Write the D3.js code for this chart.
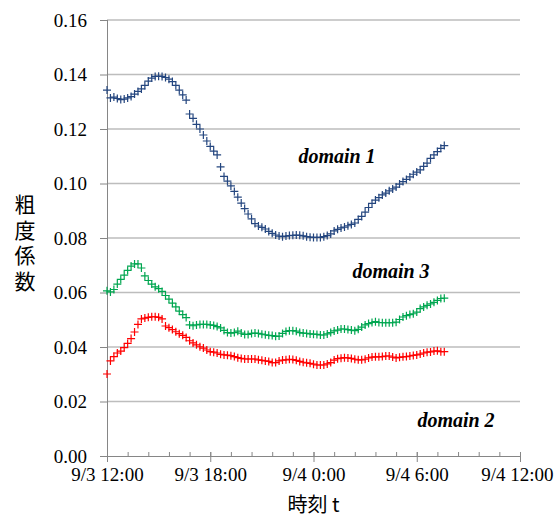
<!DOCTYPE html>
<html>
<head>
<meta charset="utf-8">
<script src="https://cdn.jsdelivr.net/npm/d3@7"></script>
<style>
  body { margin: 0; background: #fff; }
  svg { display: block; }
</style>
</head>
<body>
<div id="chart"></div>
<script>
// samples every 12 minutes from 9/3 12:00
const sampleStart = new Date(2014, 8, 3, 12, 0);
const sampleStepMinutes = 12;

const domain1 = [
  0.1343, 0.1314, 0.1317, 0.1312, 0.1308, 0.1310, 0.1314, 0.1319, 0.1328, 0.1338,
  0.1347, 0.1360, 0.1376, 0.1387, 0.1393, 0.1394, 0.1393, 0.1389, 0.1383, 0.1374,
  0.1360, 0.1343, 0.1325, 0.1306, 0.1255, 0.1239, 0.1217, 0.1200, 0.1178, 0.1156,
  0.1136, 0.1119, 0.1105, 0.1061, 0.1026, 0.1009, 0.0991, 0.0971, 0.0950, 0.0928,
  0.0908, 0.0888, 0.0870, 0.0853, 0.0844, 0.0839, 0.0833, 0.0824, 0.0817, 0.0811,
  0.0807, 0.0805, 0.0807, 0.0809, 0.0810, 0.0811, 0.0810, 0.0808, 0.0805, 0.0803,
  0.0802, 0.0802, 0.0802, 0.0805, 0.0809, 0.0815, 0.0826, 0.0832, 0.0837, 0.0840,
  0.0845, 0.0850, 0.0855, 0.0868, 0.0879, 0.0895, 0.0912, 0.0927, 0.0939, 0.0948,
  0.0958, 0.0965, 0.0973, 0.0980, 0.0987, 0.0998, 0.1007, 0.1015, 0.1024, 0.1034,
  0.1042, 0.1050, 0.1063, 0.1075, 0.1092, 0.1105, 0.1117, 0.1129, 0.1139,
];

const domain3 = [
  0.0606, 0.0602, 0.0611, 0.0631, 0.0648, 0.0664, 0.0681, 0.0697, 0.0705, 0.0705,
  0.0690, 0.0661, 0.0644, 0.0631, 0.0621, 0.0614, 0.0604, 0.0589, 0.0576, 0.0561,
  0.0547, 0.0532, 0.0519, 0.0508, 0.0481, 0.0478, 0.0481, 0.0483, 0.0483, 0.0483,
  0.0481, 0.0479, 0.0475, 0.0470, 0.0461, 0.0453, 0.0451, 0.0453, 0.0458, 0.0451,
  0.0446, 0.0446, 0.0450, 0.0451, 0.0450, 0.0447, 0.0445, 0.0443, 0.0442, 0.0439,
  0.0440, 0.0450, 0.0457, 0.0460, 0.0460, 0.0458, 0.0453, 0.0451, 0.0450, 0.0448,
  0.0447, 0.0446, 0.0444, 0.0444, 0.0448, 0.0453, 0.0459, 0.0462, 0.0466, 0.0466,
  0.0464, 0.0462, 0.0460, 0.0465, 0.0473, 0.0481, 0.0486, 0.0490, 0.0493, 0.0490,
  0.0489, 0.0489, 0.0489, 0.0489, 0.0491, 0.0501, 0.0510, 0.0515, 0.0519, 0.0522,
  0.0528, 0.0541, 0.0547, 0.0553, 0.0558, 0.0564, 0.0571, 0.0578, 0.0579,
];

const domain2 = [
  0.0301, 0.0349, 0.0365, 0.0378, 0.0385, 0.0398, 0.0413, 0.0431, 0.0455, 0.0483,
  0.0503, 0.0506, 0.0509, 0.0511, 0.0511, 0.0509, 0.0503, 0.0477, 0.0471, 0.0464,
  0.0456, 0.0449, 0.0443, 0.0435, 0.0423, 0.0415, 0.0408, 0.0401, 0.0396, 0.0389,
  0.0383, 0.0381, 0.0378, 0.0373, 0.0371, 0.0370, 0.0368, 0.0365, 0.0361, 0.0358,
  0.0356, 0.0356, 0.0356, 0.0356, 0.0353, 0.0351, 0.0349, 0.0347, 0.0343, 0.0343,
  0.0349, 0.0352, 0.0353, 0.0355, 0.0354, 0.0351, 0.0347, 0.0344, 0.0342, 0.0340,
  0.0337, 0.0334, 0.0334, 0.0334, 0.0338, 0.0343, 0.0352, 0.0357, 0.0359, 0.0361,
  0.0360, 0.0358, 0.0355, 0.0353, 0.0353, 0.0355, 0.0360, 0.0363, 0.0364, 0.0364,
  0.0365, 0.0367, 0.0367, 0.0363, 0.0360, 0.0362, 0.0364, 0.0365, 0.0367, 0.0369,
  0.0371, 0.0374, 0.0378, 0.0381, 0.0382, 0.0385, 0.0386, 0.0383, 0.0383,
];

const yTicks = [0, 0.02, 0.04, 0.06, 0.08, 0.10, 0.12, 0.14, 0.16];

const seriesList = [
  { name: "domain 1", values: domain1, color: "#24467f", label: [337, 163] },
  { name: "domain 3", values: domain3, color: "#00a650", label: [391, 278] },
  { name: "domain 2", values: domain2, color: "#ff0000", label: [456, 427] },
];

const width = 555;
const height = 517;
const margin = { top: 20, right: 35, bottom: 61, left: 107 };
const innerWidth = width - margin.left - margin.right;
const innerHeight = height - margin.top - margin.bottom;

const serif = "'Liberation Serif', 'Times New Roman', serif";
const cjk = "'Noto Sans CJK JP', 'Noto Sans', sans-serif";

const svg = d3
  .select("#chart")
  .append("svg")
  .attr("width", width)
  .attr("height", height);

const g = svg.append("g").attr("transform", `translate(${margin.left},${margin.top})`);

const xStart = new Date(2014, 8, 3, 12, 0);
const xEnd = new Date(2014, 8, 4, 12, 0);
const x = d3.scaleTime().domain([xStart, xEnd]).range([0, innerWidth]);
const y = d3.scaleLinear().domain([0, 0.16]).range([innerHeight, 0]);

// gridlines
g.append("g")
  .selectAll("line")
  .data(yTicks.filter((d) => d > 0))
  .join("line")
  .attr("x1", 0)
  .attr("x2", innerWidth)
  .attr("y1", (d) => y(d))
  .attr("y2", (d) => y(d))
  .attr("stroke", "#bdbdbd")
  .attr("stroke-width", 1.5);

// y axis
const yAxis = g
  .append("g")
  .call(d3.axisLeft(y).tickValues(yTicks).tickFormat(d3.format(".2f")).tickSize(7).tickPadding(13));
yAxis.select(".domain").attr("stroke", "#868686").attr("d", `M0.5,0V${innerHeight}`);
yAxis.selectAll(".tick line").attr("stroke", "#868686");
yAxis.selectAll(".tick text").attr("font-family", serif).attr("font-size", 19).attr("fill", "#000").attr("dy", "0.34em");

// x axis: major ticks cross the axis, minor ticks point inward
const fmtTime = (d) => `${d.getMonth() + 1}/${d.getDate()} ${d.getHours()}:${d3.format("02")(d.getMinutes())}`;
const xAxis = g
  .append("g")
  .attr("transform", `translate(0,${innerHeight})`)
  .call(d3.axisBottom(x).ticks(d3.timeHour.every(6)).tickFormat(fmtTime).tickSize(6).tickPadding(6));
xAxis.select(".domain").attr("stroke", "#868686").attr("d", `M-7,0.5H${innerWidth}`);
xAxis.selectAll(".tick line").attr("stroke", "#868686").attr("y1", -4);
xAxis.selectAll(".tick text").attr("font-family", serif).attr("font-size", 19).attr("fill", "#000");
// keep the last label inside the picture
xAxis
  .selectAll(".tick text")
  .filter((d) => +d === +xEnd)
  .attr("text-anchor", "end")
  .attr("x", 446 - innerWidth);

const minorTicks = d3.range(0, 21).map((k) => d3.timeMinute.offset(xStart, k * 72));
xAxis
  .append("g")
  .selectAll("line")
  .data(minorTicks)
  .join("line")
  .attr("x1", (d) => x(d) + 0.5)
  .attr("x2", (d) => x(d) + 0.5)
  .attr("y1", 0)
  .attr("y2", -4)
  .attr("stroke", "#868686");

// markers
const plus = "M-4,0H4M0,-4V4";
seriesList.forEach((s) => {
  g.append("g")
    .selectAll("path")
    .data(s.values)
    .join("path")
    .attr("transform", (v, i) => `translate(${x(d3.timeMinute.offset(sampleStart, i * sampleStepMinutes))},${y(v)})`)
    .attr("d", plus)
    .attr("fill", "none")
    .attr("stroke", s.color)
    .attr("stroke-width", 1.2);

  svg
    .append("text")
    .attr("x", s.label[0])
    .attr("y", s.label[1])
    .attr("text-anchor", "middle")
    .attr("font-family", serif)
    .attr("font-size", 20)
    .attr("font-weight", "bold")
    .attr("font-style", "italic")
    .text(s.name);
});

// axis titles
svg
  .append("text")
  .attr("x", margin.left + innerWidth / 2)
  .attr("y", 512)
  .attr("text-anchor", "middle")
  .attr("font-family", cjk)
  .attr("font-size", 20)
  .text("時刻 t");

const yTitle = svg
  .append("text")
  .attr("font-family", cjk)
  .attr("font-size", 21)
  .attr("text-anchor", "middle");
yTitle
  .selectAll("tspan")
  .data(Array.from("粗度係数"))
  .join("tspan")
  .attr("x", 25)
  .attr("y", (d, i) => 212 + i * 25.5)
  .text((d) => d);
</script>
</body>
</html>
